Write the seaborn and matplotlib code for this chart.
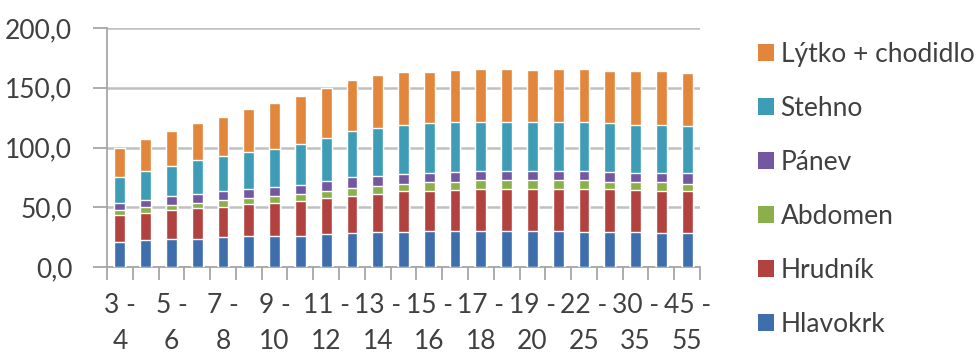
import numpy as np
import pandas as pd
import matplotlib
matplotlib.use("Agg")
import matplotlib.pyplot as plt
from matplotlib.patches import Patch
import seaborn as sns

# Age groups (years)
categories = [
    "3 - 4", "4 - 5", "5 - 6", "6 - 7", "7 - 8", "8 - 9", "9 - 10", "10 - 11",
    "11 - 12", "12 - 13", "13 - 14", "14 - 15", "15 - 16", "16 - 17", "17 - 18",
    "18 - 19", "19 - 20", "20 - 22", "22 - 25", "25 - 30", "30 - 35", "35 - 45",
    "45 - 55",
]

# Body segments, stacked bottom to top
hlavokrk = [21.1, 22.5, 23.6, 23.6, 25.0, 26.2, 25.9, 25.9, 27.3, 28.4, 29.3, 29.3,
            29.8, 29.8, 29.8, 29.8, 29.8, 29.8, 29.5, 29.5, 29.5, 28.5, 28.5]
hrudnik = [22.2, 23.1, 24.2, 25.4, 24.8, 26.4, 27.6, 29.5, 30.4, 31.3, 31.8, 34.0,
           33.7, 34.8, 35.2, 35.2, 35.7, 35.7, 35.8, 35.5, 35.1, 34.9, 34.9]
abdomen = [4.5, 4.8, 4.0, 4.8, 6.2, 5.1, 5.6, 5.7, 5.6, 6.2, 7.0, 6.2,
           7.5, 6.9, 7.4, 7.4, 6.9, 6.9, 7.1, 6.0, 6.4, 7.5, 6.3]
panev = [5.7, 5.9, 7.3, 7.3, 7.3, 7.9, 7.6, 7.9, 8.5, 9.2, 8.2, 8.5,
         8.0, 7.7, 7.6, 7.6, 7.6, 7.6, 7.6, 8.5, 8.0, 8.1, 8.6]
stehno = [21.9, 23.9, 25.1, 28.1, 29.3, 30.4, 32.4, 34.3, 36.3, 38.9, 40.2, 41.1,
          41.4, 42.2, 41.4, 41.4, 41.4, 41.4, 41.4, 40.6, 40.1, 39.9, 39.6]
lytko = [24.5, 26.5, 29.8, 31.3, 33.2, 36.3, 38.0, 40.0, 41.6, 42.2, 44.5, 44.4,
         43.0, 43.1, 44.5, 44.5, 43.1, 44.5, 44.5, 43.6, 44.6, 44.8, 44.4]

series_names = ["Hlavokrk", "Hrudník", "Abdomen", "Pánev", "Stehno", "Lýtko + chodidlo"]
series_colors = ["#3F6EAC", "#B2423F", "#8BAF4A", "#7357A0", "#3E9CB6", "#E2863B"]

y_ticks = [0, 50, 100, 150, 200]
y_tick_labels = ["0,0", "50,0", "100,0", "150,0", "200,0"]

sns.set_theme(style="white")
plt.rcParams["font.family"] = ["Lato", "DejaVu Sans"]
text_color = "#404040"
font_size = 19

df = pd.DataFrame({
    "vek": categories,
    series_names[0]: hlavokrk,
    series_names[1]: hrudnik,
    series_names[2]: abdomen,
    series_names[3]: panev,
    series_names[4]: stehno,
    series_names[5]: lytko,
})

# cumulative heights so the stack can be drawn from the top layer down
cum = df[series_names].cumsum(axis=1)
cum["vek"] = df["vek"]

fig = plt.figure(figsize=(9.76, 3.53), dpi=100)
ax = fig.add_axes([107 / 976, 1 - 267 / 353, 593 / 976, 239 / 353])

for name, color in reversed(list(zip(series_names, series_colors))):
    sns.barplot(data=cum, x="vek", y=name, order=categories, color=color,
                saturation=1, width=0.42, ax=ax, zorder=3)

ax.set_xlim(-0.5, len(categories) - 0.5)
ax.set_ylim(0, 200)
ax.set_xlabel("")
ax.set_ylabel("")

# y axis
ax.set_yticks(y_ticks)
ax.set_yticklabels(y_tick_labels)
ax.yaxis.grid(True, color="#C0C0C0", linewidth=1.8, zorder=0)
ax.set_axisbelow(True)
ax.tick_params(axis="y", which="major", left=True, length=10, width=1.3,
               color="#A6A6A6", labelsize=font_size, labelcolor=text_color, pad=15)

# x axis: labels on every other group, tick marks between groups
label_pos = list(range(0, len(categories), 2))
ax.set_xticks(label_pos)
ax.set_xticklabels([categories[i].replace(" - ", " -\n") for i in label_pos],
                   linespacing=1.55)
ax.set_xticks(np.arange(-0.5, len(categories), 1.0), minor=True)
ax.tick_params(axis="x", which="major", bottom=False, length=0,
               labelsize=font_size, labelcolor=text_color, pad=19)
ax.tick_params(axis="x", which="minor", bottom=True, length=9, width=1.3,
               color="#A6A6A6")

for side in ["top", "right"]:
    ax.spines[side].set_visible(False)
for side in ["left", "bottom"]:
    ax.spines[side].set_color("#A6A6A6")
    ax.spines[side].set_linewidth(1.3)

handles = [Patch(facecolor=c, edgecolor="none", label=n)
           for n, c in zip(series_names, series_colors)][::-1]
fig.legend(handles=handles, loc="upper left",
           bbox_to_anchor=(747 / 976, 1 - 31 / 353), bbox_transform=fig.transFigure,
           frameon=False, fontsize=font_size, labelcolor=text_color,
           handlelength=0.62, handleheight=0.62, handletextpad=0.25,
           labelspacing=1.1, borderaxespad=0)

fig.savefig("out.png", dpi=100)
